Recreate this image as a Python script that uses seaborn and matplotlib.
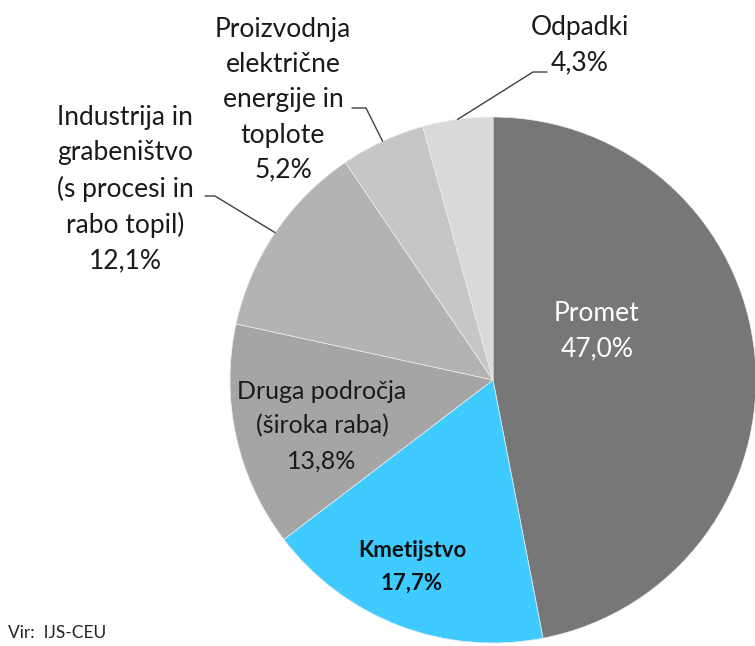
import matplotlib.pyplot as plt
import numpy as np
import seaborn as sns

sns.set_theme(style="white")
plt.rcParams["font.family"] = ["Lato", "DejaVu Sans"]

sectors = [
    "Promet",
    "Kmetijstvo",
    "Druga področja\n(široka raba)",
    "Industrija in\ngrabeništvo\n(s procesi in\nrabo topil)",
    "Proizvodnja\nelektrične\nenergije in\ntoplote",
    "Odpadki",
]
shares = [47.0, 17.7, 13.8, 12.1, 5.2, 4.3]
colors = ["#777777", "#3FCBFF", "#A5A5A5", "#B3B3B3", "#C6C6C6", "#D9D9D9"]

W, H = 755, 646
cx, cy, r = 493, H - 380, 263

fig = plt.figure(figsize=(W / 100, H / 100), dpi=100)
ax = fig.add_axes([0, 0, 1, 1])
wedges, _ = ax.pie(
    shares,
    colors=colors,
    startangle=90,
    counterclock=False,
    center=(cx, cy),
    radius=r,
    wedgeprops=dict(edgecolor="#eeeeee", linewidth=0.5),
)
ax.set_xlim(0, W)
ax.set_ylim(0, H)
ax.set_aspect("equal")
ax.axis("off")


def fmt(v):
    return f"{v:.1f}%".replace(".", ",")


def label(i, x, y, color="#1a1a1a", weight="normal", size=19, spacing=1.5):
    ax.text(x, H - y, f"{sectors[i]}\n{fmt(shares[i])}", ha="center", va="center",
            fontsize=size, color=color, fontweight=weight, linespacing=spacing)


def edge_point(i):
    w = wedges[i]
    a = np.deg2rad((w.theta1 + w.theta2) / 2)
    return cx + r * np.cos(a), cy + r * np.sin(a)


# labels inside the pie
label(0, 597, 331, color="white")
label(1, 412, 567, color="#111111", weight="bold", size=16, spacing=1.7)
label(2, 322, 426, size=18, spacing=1.6)
# labels outside with leader lines
label(3, 125, 189)
label(4, 283, 100)
label(5, 580, 45)

leaders = {3: [(205, 196), (215, 196)], 4: [(352, 108), (366, 108)], 5: [(547, 72), (533, 72)]}
for i, pts in leaders.items():
    ex, ey = edge_point(i)
    xs = [p[0] for p in pts] + [ex]
    ys = [H - p[1] for p in pts] + [ey]
    ax.plot(xs, ys, color="#404040", lw=1)

ax.text(8, H - 633, "Vir:  IJS-CEU", fontsize=12.5, color="#222222", ha="left", va="center")

fig.savefig("out.png", dpi=100)
